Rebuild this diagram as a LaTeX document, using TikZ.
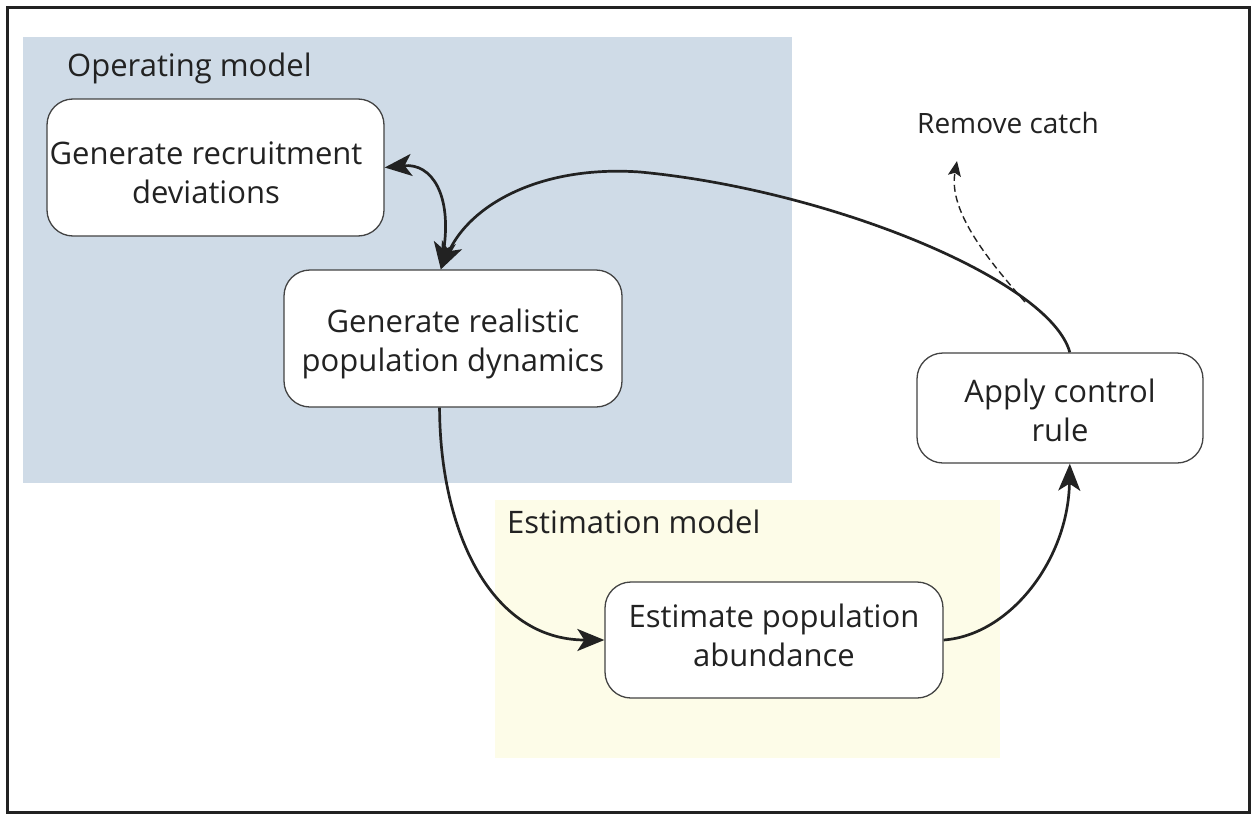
\documentclass[tikz,border=0pt]{standalone}
\usepackage{fontspec}
\setmainfont{Open Sans}
\usetikzlibrary{arrows.meta}
\definecolor{opblue}{HTML}{CFDBE7}
\definecolor{estyel}{HTML}{FDFCE8}
\definecolor{ink}{HTML}{222222}
\begin{document}
\begin{tikzpicture}[x=1pt,y=-1pt,
  box/.style={draw=ink!85, line width=1.3pt, rounded corners=26pt, fill=white, inner sep=0pt},
  txt/.style={align=center, text=ink, font=\fontsize{31}{39}\selectfont, inner sep=0pt},
  lbl/.style={text=ink, font=\fontsize{31}{36}\selectfont, inner sep=0pt, anchor=base west},
  flow/.style={draw=ink, line width=2.7pt, -{Stealth[length=27pt,width=22pt,inset=7pt]}},
  dflow/.style={draw=ink, line width=1.4pt, dash pattern=on 7pt off 4pt, -{Stealth[length=15pt,width=13pt,inset=3pt]}}
]
\useasboundingbox (0,0) rectangle (1251,814);
\fill[white] (0,0) rectangle (1251,814);
\fill[opblue] (23,37) rectangle (792,483);
\fill[estyel] (495,500) rectangle (1000,758);
\draw[ink, line width=3pt] (7,7) rectangle (1249.5,812.5);

\node[lbl] (opl) at (67,76) {Operating model};
\node[lbl] (esl) at (507,533) {Estimation model};
\node[lbl, font=\fontsize{28}{32}\selectfont] (rml) at (917,133) {Remove catch};

\node[box, minimum width=337pt, minimum height=137pt] (recruit) at (215.5,167.5) {};
\node[box, minimum width=338pt, minimum height=137pt] (real) at (453,338.5) {};
\node[box, minimum width=286pt, minimum height=110pt] (apply) at (1060,408) {};
\node[box, minimum width=338pt, minimum height=116pt] (est) at (774,640) {};
\node[txt] (recruitT) at (206,173) {Generate recruitment\\deviations};
\node[txt] (realT) at (453,344) {Generate realistic\\population dynamics};
\node[txt] (applyT) at (1060,410) {Apply control\\rule};
\node[txt] (estT) at (774,635) {Estimate population\\abundance};

\draw[flow, {Stealth[length=27pt,width=22pt,inset=7pt]}-{Stealth[length=27pt,width=22pt,inset=7pt]}] (recruit.east) .. controls (432,163) and (452,195) .. (real.100);
\draw[flow] (apply.80) .. controls (1050,280) and (830,190) .. (640,172) .. controls (540,165) and (470,205) .. (real.100);
\coordinate (dstart) at (1025,302);
\coordinate (rcend) at (957,161);
\draw[dflow] (dstart) .. controls (990,262) and (948,212) .. (rcend);
\draw[flow] (real.259) .. controls (440,530) and (490,640) .. (est.west);
\draw[flow] (est.east) .. controls (1010,635) and (1068,560) .. (apply.280);
\end{tikzpicture}
\end{document}
